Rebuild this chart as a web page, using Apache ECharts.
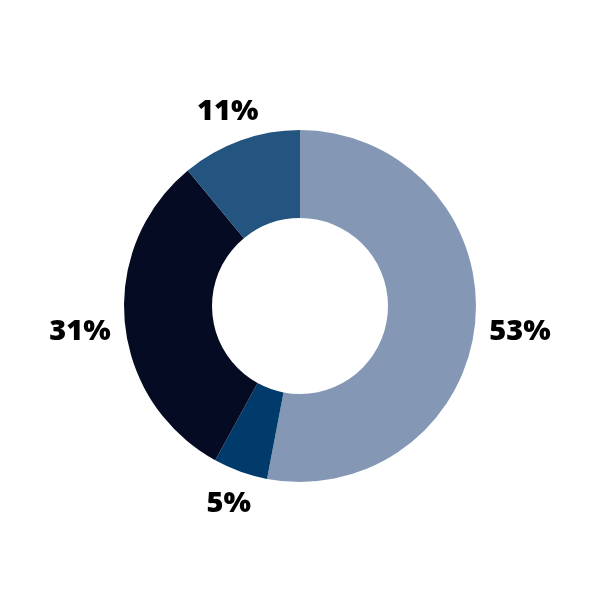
<!DOCTYPE html>
<html><head><meta charset="utf-8">
<script src="https://cdn.jsdelivr.net/npm/echarts@6/dist/echarts.min.js"></script>
<style>html,body{margin:0;padding:0;background:#fff}#c{width:600px;height:600px}</style>
</head><body><div id="c"></div>
<script>
var categories = ['A', 'B', 'C', 'D'];
var values = [53, 5, 31, 11];
var colors = ['#8498b6', '#003b6c', '#050b22', '#245580'];
var CX = 300, CY = 306, R0 = 88, R1 = 176, GAP = 13;
var chart = echarts.init(document.getElementById('c'));
chart.setOption({
  animation: false,
  series: [{
    type: 'pie',
    center: [CX, CY],
    radius: [R0, R1],
    startAngle: 90,
    clockwise: true,
    data: categories.map(function (n, i) { return { name: n, value: values[i], itemStyle: { color: colors[i] } }; }),
    label: {
      show: true,
      position: 'inside',
      formatter: '{c}%',
      fontFamily: 'Open Sans',
      fontWeight: 800,
      fontSize: 29,
      color: '#000'
    },
    labelLine: { show: false },
    labelLayout: function (p) {
      var r = p.labelRect;
      var cx = r.x + r.width / 2, cy = r.y + r.height / 2;
      var dx = cx - CX, dy = cy - CY, L = Math.sqrt(dx * dx + dy * dy);
      var ux = dx / L, uy = dy / L;
      var e = R1 + GAP + Math.abs(ux) * r.width / 2 + Math.abs(uy) * r.height / 2;
      return { x: CX + ux * e, y: CY + uy * e + 6 * (1 - Math.max(uy, 0)), align: 'center', verticalAlign: 'middle' };
    },
    emphasis: { disabled: true }
  }]
});
</script></body></html>
